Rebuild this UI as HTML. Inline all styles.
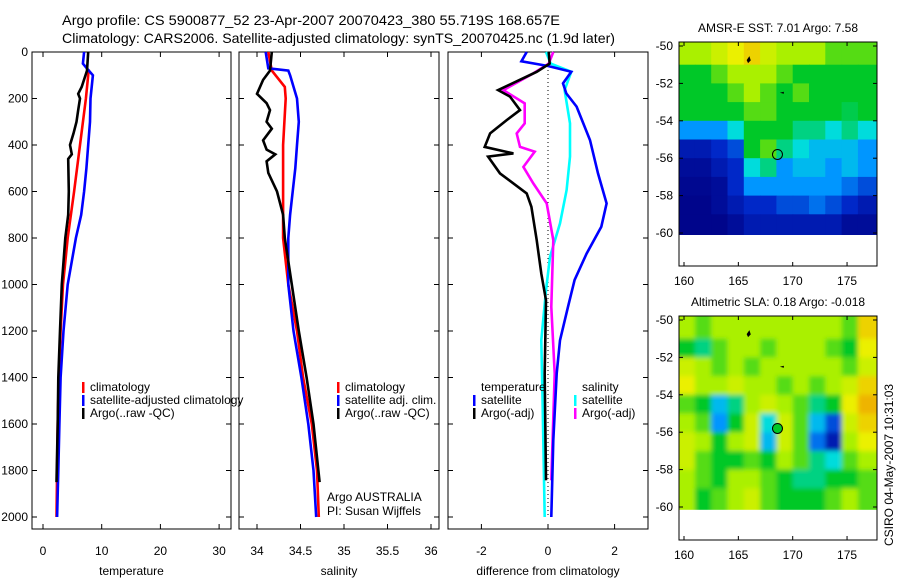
<!DOCTYPE html>
<html><head><meta charset="utf-8">
<style>
html,body{margin:0;padding:0;background:#fff;}
svg{display:block;font-family:"Liberation Sans",Arial,sans-serif;}
</style></head>
<body>
<svg id="c" width="900" height="580" viewBox="0 0 900 580" xmlns="http://www.w3.org/2000/svg">
<rect width="900" height="580" fill="#fff"/>
<text x="62" y="25" font-size="14" textLength="498" lengthAdjust="spacingAndGlyphs">Argo profile: CS 5900877_52 23-Apr-2007 20070423_380 55.719S 168.657E</text>
<text x="62" y="43" font-size="14" textLength="553" lengthAdjust="spacingAndGlyphs">Climatology: CARS2006. Satellite-adjusted climatology: synTS_20070425.nc (1.9d later)</text>
<g id="g"></g>
<defs><filter id="bl" x="-10%" y="-10%" width="120%" height="120%"><feGaussianBlur stdDeviation="2.5"/></filter>
<clipPath id="cp1"><rect x="679" y="42" width="198" height="193"/></clipPath>
<clipPath id="cp2"><rect x="679" y="316" width="198" height="194"/></clipPath></defs>
</svg>
<script>
// ---- data ----
const tClimDepth=[75,100,200,400,600,800,1000,1200,1400,1600,1800,2000];
const tClim=[7.8,7.7,7.3,6.3,5.3,4.2,3.4,3.0,2.7,2.5,2.4,2.3];
const tSatDepth=[0,50,80,100,200,300,400,500,600,700,800,900,1000,1200,1400,1600,1800,2000];
const tSat=[7.0,6.8,7.8,8.5,8.1,8.0,7.7,7.4,7.0,6.5,5.6,4.9,4.2,3.5,3.0,2.8,2.6,2.4];
const tArgoDepth=[0,80,150,180,200,250,300,350,400,440,460,600,700,800,1000,1200,1400,1600,1850];
const tArgo=[7.7,7.5,6.6,6.0,6.3,6.0,5.7,5.2,4.6,4.9,4.3,4.4,4.3,3.8,3.2,2.9,2.6,2.5,2.3];

const sClimDepth=[0,80,150,200,400,600,800,1000,1200,1400,1600,1800,2000];
const sClim=[34.13,34.17,34.32,34.33,34.30,34.30,34.30,34.36,34.46,34.53,34.63,34.69,34.71];
const sSatDepth=[0,70,80,100,200,300,400,500,600,700,800,1000,1200,1400,1600,1800,2000];
const sSat=[34.10,34.13,34.36,34.38,34.46,34.48,34.46,34.44,34.41,34.38,34.36,34.36,34.42,34.51,34.59,34.65,34.68];
const sArgoDepth=[0,80,120,180,220,250,300,330,380,420,440,470,520,600,700,800,1000,1200,1400,1600,1850];
const sArgo=[34.17,34.15,34.07,34.00,34.11,34.15,34.11,34.17,34.07,34.11,34.21,34.11,34.13,34.23,34.30,34.32,34.40,34.48,34.57,34.65,34.72];

const dTSatDepth=[0,40,60,85,135,178,235,307,379,522,651,752,867,980,1096,1240,1383,1670,2000];
const dTSat=[-0.64,-0.8,0.0,0.7,0.45,0.55,0.86,1.06,1.26,1.5,1.76,1.6,1.16,0.8,0.6,0.36,0.26,0.16,0.1];
const dTArgoDepth=[0,50,85,164,192,250,293,350,408,436,450,522,608,666,809,953,1068,1383,1842];
const dTArgo=[0.02,0.05,-0.34,-1.5,-1.14,-0.84,-1.24,-1.74,-1.9,-1.04,-1.8,-1.44,-0.64,-0.5,-0.34,-0.2,-0.06,-0.1,-0.06];
const dSSatDepth=[0,50,85,164,307,450,594,737,881,1025,1240,1527,2000];
const dSSat=[-0.06,0.08,0.7,0.5,0.66,0.66,0.56,0.36,0.06,-0.06,-0.2,-0.16,-0.1];
const dSArgoDepth=[0,50,92,164,221,307,350,408,429,494,565,651,809,1096,1383,1842];
const dSArgo=[0.16,0.02,-0.44,-1.34,-0.7,-0.7,-0.94,-0.84,-0.4,-0.74,-0.44,-0.04,0.16,0.1,0.2,0.1];

const depthTicks=[0,200,400,600,800,1000,1200,1400,1600,1800,2000];
const tTicks=[0,10,20,30];
const sTicks=[34,34.5,35,35.5,36];
const sTickLabels=["34","34.5","35","35.5","36"];
const dTicks=[-2,0,2];
const dTickLabels=["-2","0","2"];
const lonTicks=[160,165,170,175];
const latTicks=[-50,-52,-54,-56,-58,-60];
const mapLons=[159.5,161,162.5,164,165.5,167,168.5,170,171.5,173,174.5,176];
const mapLats=[-50,-51,-52,-53,-54,-55,-56,-57,-58,-59];
const sstGrid=[
[6,6,6.5,7,7.5,6.5,6,6,6,5.5,5.5,5.5],
[5,5,5.5,6,6,6,5.5,5,5,5,5,5],
[5,5,5,5.5,6,5.5,5,5.5,5,5,5,5],
[5,5,5,5,5.5,5.5,5,5,5,5,4.8,5],
[3,3,3,4,5,5,5,4.5,4.5,4,4.5,4],
[1,1,1.5,2,5,5.5,4.5,4,3.5,3.5,3.5,3],
[0.5,0.5,1,1.5,4,4.5,3,3.5,3.5,3,3.5,3],
[0.3,0.3,0.5,1.5,3,3,3,3,3,3,2.5,2],
[0.2,0.2,0.5,1,1.5,1.5,2,2,2.5,2,1.5,1],
[0.2,0.2,0.2,0.5,1,1,1,1,1,1,0.5,0.5]];
const slaGrid=[
[6,5.5,6,6,6,6,6,6,6,6,5.5,7.5],
[5,4.5,5.5,6,6,5.5,6,6,6,5.5,5,7],
[6.5,6,5.5,6,5.5,6,6,6,6,6,5.5,6.5],
[7,6,6,6.5,6,6,5.5,6,5.5,6,6.5,7.5],
[5.5,5,3.5,4.5,6,6.5,6,5.5,4.5,5,7,8],
[6,5.5,3,5,6.5,4,6.5,5.5,3.5,2,6.5,7.5],
[6.5,6,5,6,6.5,3.5,6.5,5.5,2.5,1,6,7],
[6.5,5.5,5,5,5.5,5,6,5.5,4.5,4,5.5,6],
[6,5.5,5,6,6,5.5,5,4.5,4.5,5,5,5.5],
[6,5,5.5,6,6.5,5.5,5,5,5,5.5,6,5.5]];
const argoLon=168.6, argoLat=-55.8;

// ---- helpers ----
const NS="http://www.w3.org/2000/svg";
const G=document.getElementById('g');
function mk(tag,attrs,parent){const e=document.createElementNS(NS,tag);for(const k in attrs)e.setAttribute(k,attrs[k]);(parent||G).appendChild(e);return e;}
function txt(x,y,s,size,anchor,name){const e=mk('text',{x:x,y:y,'font-size':size,'text-anchor':anchor||'start'});e.textContent=s;


return e;}
const y0=52,y1=517;
const yD=d=>y0+(d/2000)*(y1-y0);

function panel(x0,x1,xs,ticks,labels,xlabel,name,leftLabels){
  const r=mk('rect',{x:x0,y:y0,width:x1-x0,height:529-y0,fill:'none',stroke:'#000','stroke-width':1});
  
  
  ticks.forEach((t,i)=>{const x=xs(t);
    mk('line',{x1:x,x2:x,y1:y0,y2:y0+5,stroke:'#000'});
    mk('line',{x1:x,x2:x,y1:529,y2:524,stroke:'#000'});
    txt(x,555,labels[i],12,'middle',name+'-x-tick-label');});
  depthTicks.forEach(d=>{const y=yD(d);
    mk('line',{x1:x0,x2:x0+5,y1:y,y2:y,stroke:'#000'});
    mk('line',{x1:x1,x2:x1-5,y1:y,y2:y,stroke:'#000'});
    if(leftLabels)txt(28,y+4,String(d),12,'end','depth-tick-label');});
  txt((x0+x1)/2,575,xlabel,12,'middle',name+'-x-axis-title');
}
function line(vals,depths,xs,color,name){
  const p=vals.map((v,i)=>xs(v).toFixed(1)+','+yD(depths[i]).toFixed(1)).join(' ');
  const e=mk('polyline',{points:p,fill:'none',stroke:color,'stroke-width':2.6,'stroke-linejoin':'miter'});
  
  
}
function legend(x,y,color,label,name){
  if(color)mk('rect',{x:x-8,y:y-9,width:2.5,height:11,fill:color});
  txt(x,y,label,12,'start',name);
}

// temperature panel
const xT=v=>43+v*5.87;
panel(32,231,xT,tTicks,tTicks.map(String),'temperature','temperature-panel',true);
line(tClim,tClimDepth,xT,'#ff0000','temp-climatology-line');
line(tSat,tSatDepth,xT,'#0000ff','temp-satellite-line');
line(tArgo,tArgoDepth,xT,'#000000','temp-argo-line');
legend(90,391,'#ff0000','climatology','temp-legend-climatology');
legend(90,404,'#0000ff','satellite-adjusted climatology','temp-legend-satellite');
legend(90,417,'#000000','Argo(..raw -QC)','temp-legend-argo');

// salinity panel
const xS=v=>257+(v-34)*87;
panel(239,439,xS,sTicks,sTickLabels,'salinity','salinity-panel',false);
line(sClim,sClimDepth,xS,'#ff0000','sal-climatology-line');
line(sSat,sSatDepth,xS,'#0000ff','sal-satellite-line');
line(sArgo,sArgoDepth,xS,'#000000','sal-argo-line');
legend(345,391,'#ff0000','climatology','sal-legend-climatology');
legend(345,404,'#0000ff','satellite adj. clim.','sal-legend-satellite');
legend(345,417,'#000000','Argo(..raw -QC)','sal-legend-argo');
txt(327,501,'Argo AUSTRALIA',12,'start','argo-australia-label');
txt(327,515,'PI: Susan Wijffels',12,'start','pi-label');

// difference panel
const xDf=v=>548+v*33.3;
panel(448,648,xDf,dTicks,dTickLabels,'difference from climatology','difference-panel',false);
mk('line',{x1:548,x2:548,y1:70,y2:515,stroke:'#000','stroke-dasharray':'1,3'});
line(dSSat,dSSatDepth,xDf,'#00ffff','diff-sal-satellite-line');
line(dSArgo,dSArgoDepth,xDf,'#ff00ff','diff-sal-argo-line');
line(dTSat,dTSatDepth,xDf,'#0000ff','diff-temp-satellite-line');
line(dTArgo,dTArgoDepth,xDf,'#000000','diff-temp-argo-line');
legend(481,391,null,'temperature','diff-legend-temperature-heading');
legend(481,404,'#0000ff','satellite','diff-legend-temp-satellite');
legend(481,417,'#000000','Argo(-adj)','diff-legend-temp-argo');
legend(582,391,null,'salinity','diff-legend-salinity-heading');
legend(582,404,'#00ffff','satellite','diff-legend-sal-satellite');
legend(582,417,'#ff00ff','Argo(-adj)','diff-legend-sal-argo');

// maps
const cmStops=[[0,0,0,130],[0.15,0,40,200],[0.3,0,150,255],[0.4,0,220,220],[0.5,0,200,40],[0.6,170,240,0],[0.7,235,240,0],[0.85,240,150,0],[1,220,60,0]];
function cmap(v){v=Math.max(0,Math.min(1,v));
  for(let i=1;i<cmStops.length;i++){const a=cmStops[i-1],b=cmStops[i];
    if(v<=b[0]){const t=(v-a[0])/(b[0]-a[0]);
      return 'rgb('+[1,2,3].map(k=>Math.round(a[k]+(b[k]-a[k])*t)).join(',')+')';}}
  return 'rgb(220,60,0)';}
function map(top,latTop,grid,clip,blur,name,title,markerFill){
  const xL=lon=>684+(lon-160)*10.87;
  const yL=lat=>latTop+(-50-lat)*18.7;
  const gg=mk('g',{'clip-path':'url(#'+clip+')'});
  
  
  const inner=mk('g',blur?{filter:'url(#bl)'}:{},gg);
  grid.forEach((row,i)=>row.forEach((v,j)=>{
    const x=xL(mapLons[j]-(j==0?2:0)), w=xL(mapLons[j]+1.5+(j==row.length-1?3:0))-x;
    const y=yL(mapLats[i]+(i==0?1.5:0)), h=yL(mapLats[i]-1-(i==grid.length-1?0.8:0))-y;
    const c=mk('rect',{x:x.toFixed(1),y:y.toFixed(1),width:(w+0.6).toFixed(1),height:(h+0.6).toFixed(1),fill:cmap(v/10)},inner);
    
    
  }));
  mk('rect',{x:679,y:yL(-60.15),width:198,height:top+224-yL(-60.15),fill:'#fff'});
  const fr=mk('rect',{x:679,y:top,width:198,height:224,fill:'none',stroke:'#000'});
  
  
  lonTicks.forEach(l=>{const x=xL(l);mk('line',{x1:x,x2:x,y1:top+224,y2:top+220,stroke:'#000'});mk('line',{x1:x,x2:x,y1:top,y2:top+4,stroke:'#000'});
    txt(x,top+243,String(l),12,'middle',name+'-lon-tick-label');});
  latTicks.forEach(l=>{const y=yL(l);mk('line',{x1:679,x2:683,y1:y,y2:y,stroke:'#000'});mk('line',{x1:877,x2:873,y1:y,y2:y,stroke:'#000'});
    txt(673,y+4,String(l),12,'end',name+'-lat-tick-label');});
  mk('path',{d:'M'+xL(166)+' '+(yL(-50.6))+' l-2 3 l1 2 l2 -2 z',fill:'#000',stroke:'#000','stroke-width':1});
  mk('path',{d:'M'+(xL(169)-2)+' '+yL(-52.5)+' l4 -1 l0 2 z',fill:'#000'});
  const m=mk('circle',{cx:xL(argoLon),cy:yL(argoLat),r:5,fill:markerFill,stroke:'#000','stroke-width':1});
  
  
  txt(778,top-10,title,12,'middle',name+'-title');
}
map(42,46,sstGrid,'cp1',false,'sst-map','AMSR-E SST: 7.01  Argo: 7.58','none');
map(316,320,slaGrid,'cp2',true,'sla-map','Altimetric SLA: 0.18  Argo: -0.018','#00c828');
const st=txt(0,0,'CSIRO 04-May-2007 10:31:03',12,'start','timestamp-label');
st.setAttribute('transform','translate(893,546) rotate(-90)');
</script>
</body></html>
